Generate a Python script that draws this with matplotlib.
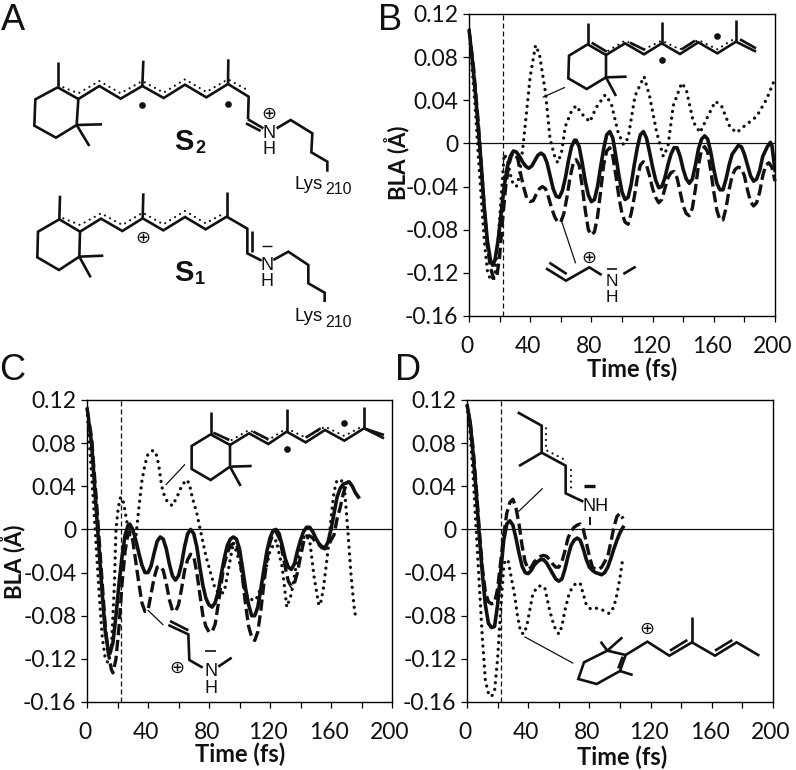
import matplotlib
matplotlib.use("Agg")
import matplotlib.pyplot as plt
from matplotlib.ticker import FixedLocator
from matplotlib.transforms import ScaledTranslation

W, H = 796, 770
plt.rcParams['font.family'] = ['Lato', 'DejaVu Sans']

# ---------- data ----------
b_solid_t = [0,2,4,6,8,10,12,14,15.5,17,19,21,23,25,27,29,31,33,35,37,39,41,43,45,47,49,51,53,55,57,59,61,63,65,67,69,70,72,74,76,78,80,82,84,86,88,90,92,94,96,98,100,102,104,106,108,110,112,114,116,118,120,122,124,126,128,130,132,134,136,138,140,142,144,146,148,150,152,154,156,158,160,162,164,166,168,170,172,176,178,180,182,184,186,188,190,192,195,197,198,200]
b_solid_y = [.105,.08,.05,.015,-.02,-.06,-.09,-.108,-.113,-.108,-.09,-.065,-.04,-.022,-.012,-.007,-.008,-.012,-.017,-.021,-.023,-.021,-.016,-.011,-.009,-.011,-.018,-.03,-.042,-.049,-.05,-.044,-.032,-.016,-.003,.003,.003,-.003,-.018,-.035,-.048,-.054,-.052,-.04,-.022,-.005,.008,.011,.005,-.012,-.03,-.045,-.052,-.05,-.038,-.02,-.004,.008,.011,.005,-.008,-.022,-.034,-.041,-.04,-.032,-.02,-.01,-.004,-.004,-.012,-.024,-.033,-.037,-.033,-.02,-.005,.004,.007,.004,-.008,-.024,-.037,-.043,-.043,-.033,-.02,-.01,-.002,-.003,-.01,-.02,-.03,-.035,-.033,-.025,-.012,-.003,.001,-.002,-.025]
b_dash_t = [0,3,6,8,10,12,14,16,18,20,22,24,26,28,30,32,34,36,38,40,42,44,46,48,50,52,54,56,58,60,62,64,66,68,70,72,74,76,78,80,82,84,86,88,90,92,94,96,98,100,102,104,106,108,110,112,114,116,118,120,122,124,126,128,130,132,134,136,138,140,142,144,146,148,150,152,154,156,158,160,162,164,166,168,170,172,174,176,178,180,182,184,186,188,190,192,194,196,198,200]
b_dash_y = [.105,.07,.02,-.02,-.06,-.095,-.115,-.125,-.125,-.105,-.07,-.04,-.02,-.01,-.009,-.015,-.03,-.042,-.052,-.054,-.053,-.047,-.042,-.04,-.042,-.05,-.06,-.068,-.073,-.073,-.065,-.05,-.032,-.019,-.015,-.02,-.04,-.062,-.08,-.085,-.082,-.068,-.045,-.02,-.007,-.004,-.012,-.03,-.05,-.065,-.073,-.075,-.065,-.05,-.032,-.02,-.017,-.02,-.03,-.042,-.05,-.055,-.052,-.042,-.032,-.027,-.026,-.032,-.045,-.058,-.065,-.067,-.06,-.042,-.02,-.006,-.003,-.008,-.025,-.045,-.062,-.071,-.071,-.06,-.043,-.03,-.024,-.022,-.023,-.03,-.043,-.054,-.058,-.055,-.045,-.03,-.02,-.018,-.022,-.035]
b_dot_t = [0,2,4,6,8,10,12,14,15,17,19,21,23,25,28,31,33,35.5,40,43.5,46,50,53,56,58,60.5,63,67,70,74,79,83,89,93,97.5,101,104,108.5,114.4,118,122.7,127,130,133.5,139,142,146.6,151,155,161,165,170.6,175,179,188,194.5,200]
b_dot_y = [.105,.07,.035,-.01,-.05,-.09,-.118,-.126,-.127,-.12,-.09,-.05,-.01,-.015,-.035,-.04,-.03,0,.062,.091,.083,.047,.004,-.012,-.018,-.008,.016,.03,.035,.027,.02,.033,.045,.037,.01,-.001,.005,.044,.062,.044,.01,-.012,-.003,.035,.056,.05,.02,.01,.022,.039,.035,.015,.01,.015,.025,.041,.06]

c_solid_t = [0,3,6,8,10,12,14,15,17,19,21,23,25,27,28,30,32,34,36,38,40,42,44,46,48,50,52,54,56,58,60,62,64,66,68,70,72,74,76,78,80,82,84,86,88,90,92,94,96,98,100,102,104,106,108,110,112,114,116,118,120,122,124,126,128,130,132,134,136,138,140,142,144,146,148,150,152,154,156,158,160,162,164,166,168,170,172,174,176,178]
c_solid_y = [.112,.08,.02,-.02,-.06,-.095,-.113,-.115,-.105,-.08,-.05,-.025,-.005,.004,.005,0,-.01,-.022,-.033,-.04,-.04,-.034,-.022,-.011,-.007,-.009,-.018,-.032,-.043,-.047,-.043,-.032,-.016,-.004,0,-.004,-.016,-.035,-.052,-.064,-.07,-.072,-.068,-.058,-.042,-.027,-.015,-.009,-.007,-.009,-.018,-.036,-.055,-.07,-.08,-.08,-.072,-.055,-.037,-.02,-.008,-.001,0,-.004,-.015,-.027,-.035,-.037,-.032,-.02,-.01,-.002,.002,.002,-.002,-.008,-.013,-.016,-.017,-.012,0,.015,.03,.038,.042,.043,.044,.04,.034,.03]
c_dash_t = [0,3,6,8,10,12,14,16,17,19,21,23,25,27,28,30,32,34,36,38,40,42,44,46,48,50,52,54,56,58,60,62,64,66,68,70,72,74,76,78,80,82,84,86,88,90,92,94,96,98,100,102,104,106,108,110,112,114,116,118,120,122,124,126,128,130,132,134,136,138,140,142,144,146,148,150,152,154,156,158,160,162,164,166,168,170,172]
c_dash_y = [.112,.085,.03,-.01,-.05,-.09,-.115,-.13,-.133,-.12,-.09,-.05,-.02,-.003,-.002,-.01,-.03,-.05,-.068,-.076,-.075,-.06,-.045,-.035,-.034,-.038,-.05,-.065,-.075,-.076,-.07,-.055,-.038,-.028,-.023,-.025,-.04,-.06,-.08,-.09,-.095,-.095,-.088,-.07,-.05,-.032,-.022,-.015,-.013,-.013,-.025,-.045,-.07,-.09,-.1,-.103,-.095,-.075,-.05,-.028,-.012,-.004,-.002,-.008,-.02,-.035,-.048,-.053,-.05,-.04,-.025,-.012,-.006,-.006,-.008,-.012,-.014,-.017,-.018,-.016,-.01,-.005,.01,.02,.033,.042,.045]
c_dot_t = [0,4,8,10,12,14,16,18,19,20.5,22,24,26,28,30,32,34,36,38,40,43,45,47,49,51,53,56,59,62,65,67,69,72,75,78,81,84,87,90,93,96,100,104,108,110,112,116,120,124,128,131,134,137,140,143,146,149,152,153,155,158,160,162,164,167,169,171,173,175,176,178]
c_dot_y = [.112,.03,-.06,-.1,-.12,-.124,-.11,-.05,0,.02,.03,.025,.008,-.005,-.01,-.008,.02,.045,.06,.07,.073,.072,.06,.04,.03,.025,.022,.03,.04,.046,.043,.03,.015,-.005,-.025,-.04,-.055,-.06,-.058,-.035,-.012,-.03,-.06,-.065,-.066,-.062,-.045,-.02,-.01,-.035,-.072,-.06,-.035,-.015,-.005,-.01,-.045,-.07,-.07,-.055,-.02,.01,.035,.046,.045,.035,0,-.04,-.07,-.08,-.08]

d_solid_t = [0,2,4,6,8,10,12,14,16,18,20,22,24,26,28,30,32,34,36,38,40,42,44,46,48,50,52,54,56,58,60,62,64,66,68,70,72,74,76,78,80,82,84,86,88,90,92,94,96,98,100,102]
d_solid_y = [.115,.1,.07,.035,-.005,-.04,-.07,-.087,-.091,-.09,-.07,-.04,-.01,.005,.008,.004,-.008,-.022,-.034,-.04,-.041,-.038,-.033,-.03,-.028,-.028,-.031,-.036,-.041,-.046,-.048,-.046,-.037,-.025,-.015,-.01,-.008,-.01,-.018,-.028,-.035,-.038,-.04,-.041,-.042,-.04,-.035,-.027,-.018,-.01,-.003,.002]
d_dash_t = [0,2,4,6,8,10,12,14,16,18,20,22,24,26,28,30,32,34,36,38,40,42,44,46,48,50,52,54,56,58,60,62,64,66,68,70,72,74,76,78,80,82,84,86,88,90,92,94,96,98,100,102]
d_dash_y = [.115,.1,.075,.04,0,-.035,-.058,-.067,-.069,-.068,-.055,-.03,-.005,.015,.025,.028,.02,.005,-.015,-.03,-.037,-.035,-.03,-.027,-.025,-.024,-.025,-.028,-.032,-.035,-.035,-.03,-.02,-.008,-.002,.002,.004,.005,0,-.012,-.025,-.035,-.037,-.037,-.035,-.03,-.025,-.012,.002,.012,.015,.01]
d_dot_t = [0,2,4,6,8,10,12,14,16,18,20,22,24,25,27,29,31,33,35,37,39,41,43,46,49,51,54,57,60,62,64,67,71,74,76,78,81,85,89,93,96,98,100,102]
d_dot_y = [.115,.09,.05,0,-.05,-.1,-.14,-.152,-.155,-.15,-.12,-.075,-.035,-.028,-.03,-.045,-.06,-.08,-.095,-.097,-.09,-.075,-.06,-.053,-.052,-.055,-.075,-.09,-.097,-.09,-.075,-.058,-.05,-.05,-.06,-.07,-.074,-.073,-.075,-.078,-.072,-.06,-.045,-.025]

y_ticks = [-.16,-.12,-.08,-.04,0,.04,.08,.12]
y_labels = ['-0.16','-0.12','-0.08','-0.04','0','0.04','0.08','0.12']
x_ticks = [0,40,80,120,160,200]
x_minor = [20,60,100,140,180]
marker_time = 22

fig = plt.figure(figsize=(W/100, H/100), dpi=100, facecolor='white')
shift = ScaledTranslation(-2/100, 0, fig.dpi_scale_trans)


def panel(box, sol, das, dot):
    l, t, r, b = box
    ax = fig.add_axes([l/W, 1-b/H, (r-l)/W, (b-t)/H])
    ax.set_xlim(0, 200)
    ax.set_ylim(-.16, .12)
    ax.set_xticks(x_ticks)
    ax.xaxis.set_minor_locator(FixedLocator(x_minor))
    ax.set_yticks(y_ticks)
    ax.set_yticklabels(y_labels)
    ax.tick_params(axis='both', which='major', labelsize=16.5, length=4.5, width=.9, labelcolor='#111111')
    ax.tick_params(axis='x', which='major', pad=10)
    ax.tick_params(axis='x', which='minor', length=4.5, width=.9)
    ax.tick_params(axis='y', pad=3)
    for lab in ax.get_xticklabels():
        lab.set_transform(lab.get_transform() + shift)
    for s in ax.spines.values():
        s.set_linewidth(1.0)
    ax.axhline(0, color='#111111', lw=.9, zorder=1)
    ax.plot([marker_time]*2, [-.16, .12], color='#111111', lw=.9, ls=(0, (4, 2.4)), zorder=1)
    ax.plot(*dot, color='#111111', lw=2.4, ls=(0, (.01, 2.0)), dash_capstyle='round', zorder=2, clip_on=False)
    ax.plot(*das, color='#111111', lw=2.4, ls=(0, (3.4, 1.4)), dash_capstyle='butt', zorder=3, clip_on=False)
    ax.plot(*sol, color='#111111', lw=2.6, solid_joinstyle='round', zorder=4)
    return ax


panel((469, 14, 775, 316), (b_solid_t, b_solid_y), (b_dash_t, b_dash_y), (b_dot_t, b_dot_y))
panel((87, 400, 392, 702), (c_solid_t, c_solid_y), (c_dash_t, c_dash_y), (c_dot_t, c_dot_y))
panel((467, 400, 773, 702), (d_solid_t, d_solid_y), (d_dash_t, d_dash_y), (d_dot_t, d_dot_y))

# ---------- overlay in pixel coordinates: labels and structural formulae ----------
ov = fig.add_axes([0, 0, 1, 1], zorder=10)
ov.set_xlim(0, W)
ov.set_ylim(H, 0)
ov.axis('off')
ov.patch.set_alpha(0)
INK = '#111111'


def L(pts, off, lw=1.9):
    xs = [off[0]+p[0]/3 for p in pts]
    ys = [off[1]+p[1]/3 for p in pts]
    ov.plot(xs, ys, color=INK, lw=lw, solid_capstyle='butt', solid_joinstyle='miter')


def DOT(pts, off):
    xs = [off[0]+p[0]/3 for p in pts]
    ys = [off[1]+p[1]/3 for p in pts]
    ov.plot(xs, ys, color=INK, lw=1.6, ls=(0, (.01, 2.6)), dash_capstyle='round')


def RAD(x, y, off):
    ov.plot([off[0]+x/3], [off[1]+y/3], 'o', color=INK, ms=4.8, mew=0)


def T(x, y, s, off, size=12, **kw):
    kw.setdefault('family', ['Liberation Sans', 'DejaVu Sans'])
    kw.setdefault('ha', 'center')
    kw.setdefault('va', 'center')
    ov.text(off[0]+x/3, off[1]+y/3, s, fontsize=size, color=INK, **kw)


# panel letters
for x, y, s in [(13, 21, 'A'), (390, 21, 'B'), (12, 370, 'C'), (408, 370, 'D')]:
    ov.text(x, y, s, fontsize=26, color=INK, ha='center', va='center', family=['Liberation Sans'])

# axis titles
for x, y in [(632, 369), (240, 754), (622, 757)]:
    ov.text(x, y, 'Time (fs)', fontsize=17, fontweight='bold', color=INK, ha='center', va='center')
for x, y in [(397, 163), (13, 562)]:
    ov.text(x, y, 'BLA (Å)', fontsize=16, fontweight='bold', color=INK, ha='center', va='center', rotation=90)

# A, S2
o = (0, 0)
L([(173,262),(235,297),(230,375),(168,413),(103,377),(106,298),(173,262)], o)
L([(235,297),(298,258),(362,296),(427,258),(491,294),(555,254),(619,292),(684,252),(746,290),(744,358)], o)
L([(744,358),(790,385)], o); L([(738,370),(782,393)], o)
L([(830,385),(872,360),(937,400),(934,457),(982,485),(982,515)], o)
L([(173,262),(173,187)], o); L([(427,258),(430,182)], o); L([(684,252),(685,178)], o)
L([(230,375),(306,373)], o); L([(230,375),(268,438)], o)
DOT([(190,262),(235,280),(298,243),(362,280),(427,243),(491,278),(555,238),(619,276),(684,238),(746,272)], o)
RAD(427, 316, o); RAD(683, 311, o)
T(808, 343, '⊕', o, size=13, family=['DejaVu Sans'])
T(808, 402, 'N', o, size=13); T(808, 450, 'H', o, size=13)
T(522, 425, 'S', o, size=21, fontweight='bold', ha='left')
T(586, 445, '2', o, size=13, fontweight='bold', ha='left')
T(885, 553, 'Lys', o, size=13.5, ha='left'); T(977, 570, '210', o, size=11.5, ha='left')

# A, S1
L([(178,658),(240,695),(238,770),(177,810),(112,772),(114,695),(178,658)], o)
L([(240,695),(303,656),(367,693),(428,655),(490,691),(555,651),(617,688),(680,650),(742,686),(742,760),(785,782)], o)
L([(757,693),(757,755)], o)
L([(820,780),(865,755),(925,795),(925,850),(974,878),(974,906)], o)
L([(178,658),(180,587)], o); L([(428,655),(430,580)], o); L([(680,650),(680,575)], o)
L([(238,770),(310,767)], o); L([(238,770),(272,832)], o)
DOT([(190,655),(240,675),(303,640),(367,675),(428,638),(490,673),(555,633),(617,670),(672,640)], o)
T(428, 713, '⊕', o, size=13, family=['DejaVu Sans'])
L([(787,737),(817,737)], o, lw=1.0)
T(800, 798, 'N', o, size=13); T(800, 845, 'H', o, size=13)
T(522, 818, 'S', o, size=21, fontweight='bold', ha='left')
T(586, 838, '1', o, size=13, fontweight='bold', ha='left')
T(885, 950, 'Lys', o, size=13.5, ha='left'); T(977, 967, '210', o, size=11.5, ha='left')

# B, retinal fragment
o = (390, 0)
L([(593,133),(648,165),(648,232),(590,267),(535,235),(537,167),(593,133)], o)
L([(648,165),(705,130),(762,163),(815,130),(870,162),(925,127),(982,160),(1038,125),(1098,155)], o)
L([(605,128),(650,155)], o); L([(720,128),(765,150)], o); L([(875,148),(915,122)], o); L([(1050,118),(1098,145)], o)
L([(593,133),(593,70)], o); L([(815,130),(815,65)], o); L([(1038,125),(1038,60)], o)
L([(648,232),(710,230)], o); L([(648,232),(678,288)], o)
DOT([(655,152),(705,122),(762,148),(815,122),(870,148),(925,120),(982,148),(1030,118)], o)
RAD(815, 181, o); RAD(982, 107, o)
L([(458,292),(525,262)], o, lw=.9); L([(512,655),(557,790)], o, lw=.9)
L([(468,805),(528,842),(598,802),(635,825)], o); L([(478,788),(530,822)], o)
L([(700,822),(737,800)], o); L([(650,806),(682,806)], o, lw=1.2)
T(598, 773, '⊕', o, size=13, family=['DejaVu Sans'])
T(665, 843, 'N', o, size=12.5); T(665, 893, 'H', o, size=12.5)

# C, retinal fragment
o = (0, 385)
L([(632,148),(690,180),(690,245),(632,285),(575,252),(575,183),(632,148)], o)
L([(690,180),(747,145),(805,177),(860,140),(917,172),(975,135),(1033,167),(1092,130),(1152,160)], o)
L([(640,143),(688,165)], o); L([(760,140),(805,163)], o); L([(917,158),(962,130)], o); L([(1092,130),(1152,150)], o)
L([(632,148),(632,82)], o); L([(860,140),(860,72)], o); L([(1092,130),(1092,65)], o)
L([(690,245),(755,243)], o); L([(690,245),(722,303)], o)
DOT([(695,165),(747,135),(805,165),(860,130),(917,158),(975,125),(1033,153),(1085,125)], o)
RAD(862, 192, o); RAD(1033, 115, o)
L([(497,300),(555,238)], o, lw=.9); L([(443,675),(490,720)], o, lw=.9)
L([(505,720),(565,748),(568,825),(608,848)], o); L([(510,708),(565,736)], o)
L([(655,845),(695,818)], o); L([(615,798),(648,798)], o, lw=1.2)
T(532, 850, '⊕', o, size=13, family=['DejaVu Sans'])
T(632, 858, 'N', o, size=13); T(632, 910, 'H', o, size=13)

# D, fragments
o = (400, 385)
L([(353,82),(425,122),(425,203),(357,243)], o)
L([(425,203),(497,242),(497,325),(550,350)], o)
DOT([(438,130),(438,195),(490,222)], o); DOT([(512,255),(512,310)], o)
T(588, 365, 'NH', o, size=13)
L([(552,303),(586,303)], o, lw=2.4); L([(570,395),(570,420)], o, lw=1.4)
L([(355,380),(428,310)], o, lw=.9); L([(373,755),(520,835)], o, lw=.9)
L([(622,797),(677,810),(660,858),(590,897),(535,882),(552,832),(622,797)], o)
L([(622,797),(667,757)], o); L([(622,797),(602,770)], o); L([(660,858),(698,870)], o)
L([(668,815),(655,850)], o)
L([(677,810),(742,770),(808,812),(876,772),(945,812),(1010,772),(1078,812)], o)
L([(810,797),(862,765)], o); L([(945,797),(997,765)], o); L([(876,772),(876,695)], o)
T(741, 733, '⊕', o, size=13, family=['DejaVu Sans'])

fig.savefig('out.png', dpi=100, facecolor='white')
